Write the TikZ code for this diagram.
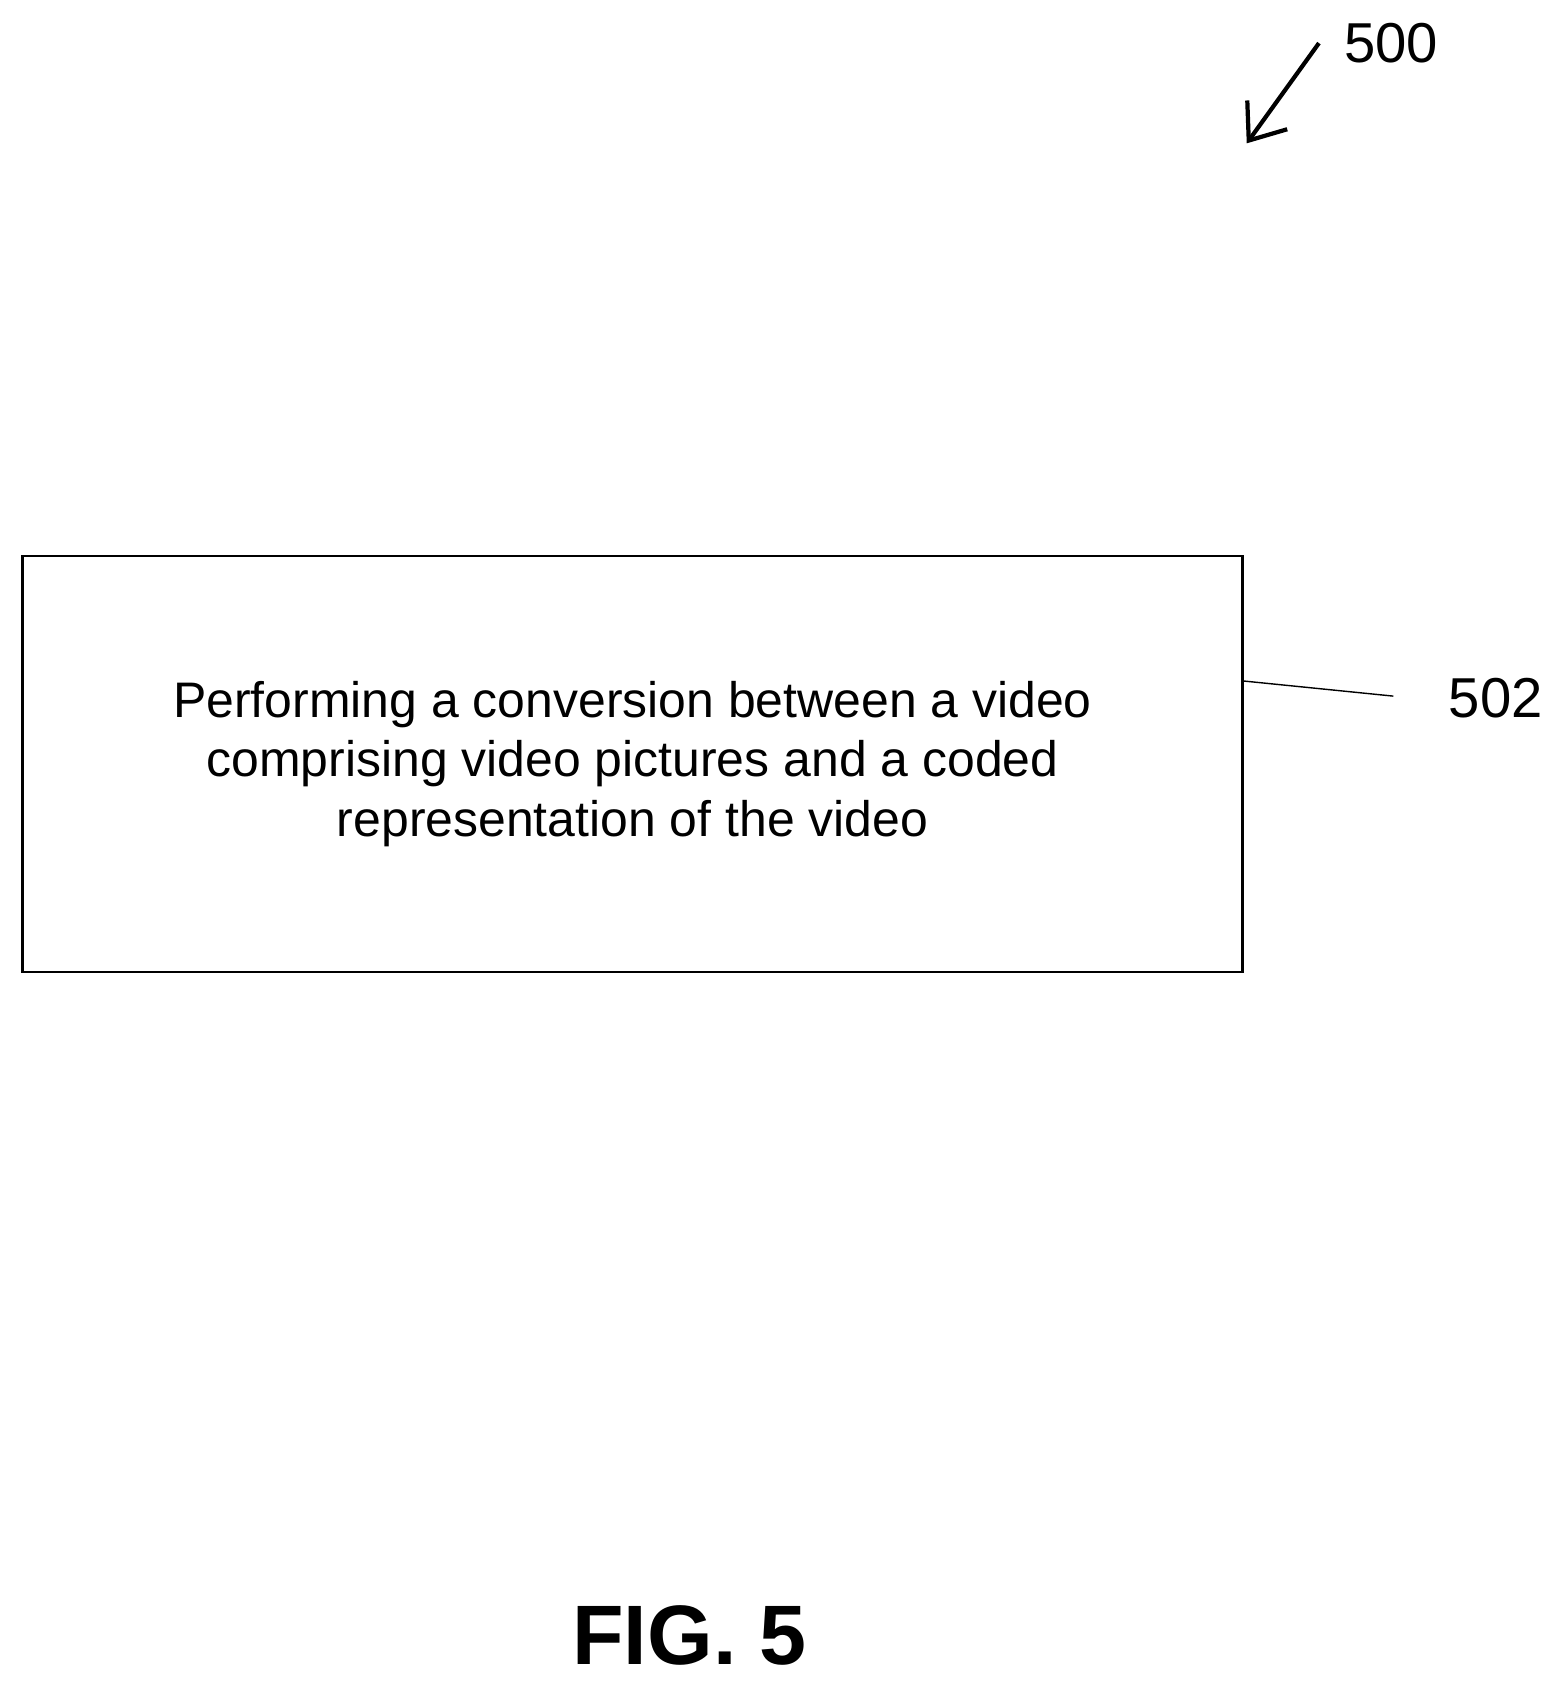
\documentclass[tikz,border=0pt]{standalone}
\usepackage{fontspec}
\setmainfont{Liberation Sans}
\usetikzlibrary{positioning,arrows.meta}

\begin{document}
\begin{tikzpicture}
[x=0.010775cm,y=-0.010775cm,
      stepbox/.style={draw,thick,minimum width=1132*0.010775cm,minimum height=386*0.010775cm,
      align=center,font=\fontsize{14.2}{17}\selectfont},
      reflabel/.style={font=\fontsize{16}{19}\selectfont}]
 \useasboundingbox (0,0) rectangle (1445,1560);
 \node[stepbox] (conv) at (587,709) {Performing a conversion between a video\\
  comprising video pictures and a coded\\ representation of the video};
 \node[reflabel] (l502) at (1388,648) {502};
 \coordinate (lead) at (1293,646);
 \draw (conv.east |- 0,632) -- (lead);
 \node[reflabel] (l500) at (1291,40) {500};
 \coordinate (tail) at (1224,40);
 \coordinate (head) at (1157,133);
 \draw[line width=1.2pt,-{Straight Barb[length=9pt,width=14pt]}] (tail) -- (head);
 \node[font=\fontsize{24}{28}\selectfont\bfseries] (fig) at (640,1518) {FIG. 5};
\end{tikzpicture}
\end{document}
